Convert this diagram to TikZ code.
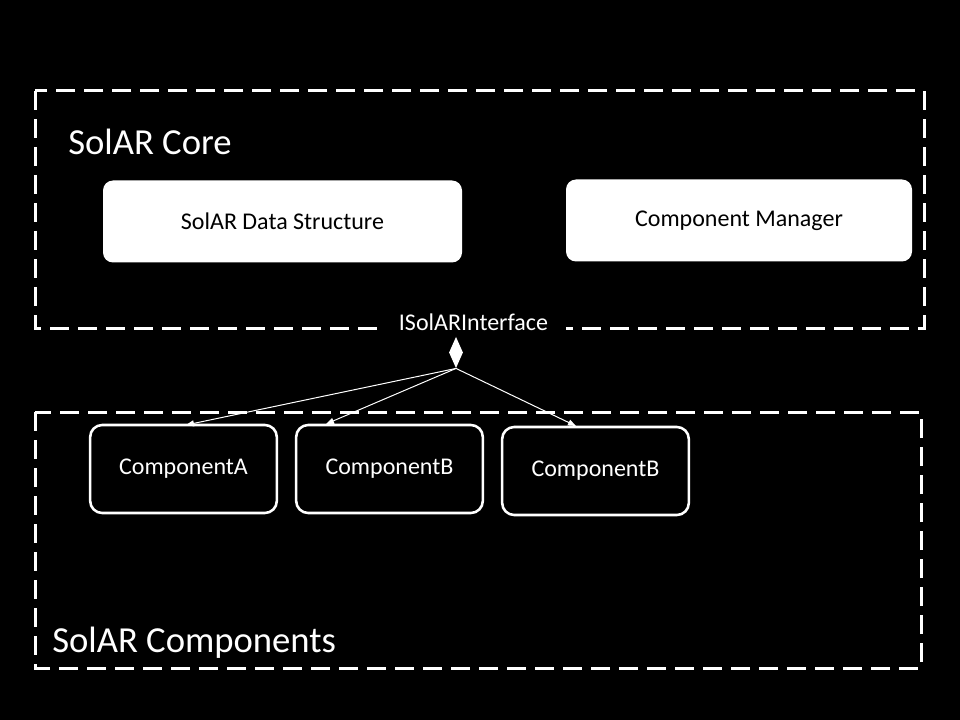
\documentclass[tikz,border=0pt]{standalone}
\usepackage{fontspec}
\setmainfont{Carlito}
\usetikzlibrary{arrows.meta,shapes.geometric}
\begin{document}
\begin{tikzpicture}[x=0.75pt,y=-0.75pt,
  group/.style={draw=white,line width=2.25pt,dash pattern=on 14pt off 7pt},
  title/.style={text=white,font=\fontsize{27.5pt}{32pt}\selectfont,anchor=west,inner sep=0pt},
  corebox/.style={fill=white,rounded corners=7.5pt,text=black,font=\fontsize{18pt}{22pt}\selectfont},
  compbox/.style={draw=white,fill=black,line width=1.9pt,rounded corners=9pt,text=white,font=\fontsize{18pt}{22pt}\selectfont},
  link/.style={draw=white,line width=0.75pt,-{Triangle[length=6pt,width=4.5pt]}}
]
\fill[black] (0,0) rectangle (960,720);
\useasboundingbox (0,0) rectangle (960,720);
% groups
\draw[group] (35,91) rectangle (924,328);
\draw[group] (35,412) rectangle (921,668);
\node[title] (coretitle) at (68,142) {SolAR Core};
\node[title] (comptitle) at (52,643) {SolAR Components};
% core boxes
\node[corebox,minimum width=269.25pt,minimum height=61.5pt] (ds) at (282.5,221.5) {SolAR Data Structure};
\node[corebox,minimum width=259.5pt,minimum height=61.5pt] (cm) at (739,220.5) {Component Manager};
% interface
\node[fill=black,text=white,font=\fontsize{18pt}{22pt}\selectfont,inner xsep=13.5pt,inner ysep=3pt] (iface) at (473.5,322) {ISolARInterface};
\node[diamond,fill=white,minimum width=10.5pt,minimum height=23.5pt,inner sep=0pt] (dia) at (456,352.5) {};
% components
\node[compbox,minimum width=140pt,minimum height=66pt] (ca) at (183.5,469) {ComponentA};
\node[compbox,minimum width=140pt,minimum height=66pt] (cb1) at (389.5,469) {ComponentB};
\node[compbox,minimum width=140pt,minimum height=66pt] (cb2) at (595.5,471) {ComponentB};
% connectors
\coordinate (ta) at (186,425);
\coordinate (tb1) at (326,424);
\coordinate (tb2) at (576,426);
\draw[link] (dia.south) -- (ta);
\draw[link] (dia.south) -- (tb1);
\draw[link] (dia.south) -- (tb2);
\end{tikzpicture}
\end{document}
